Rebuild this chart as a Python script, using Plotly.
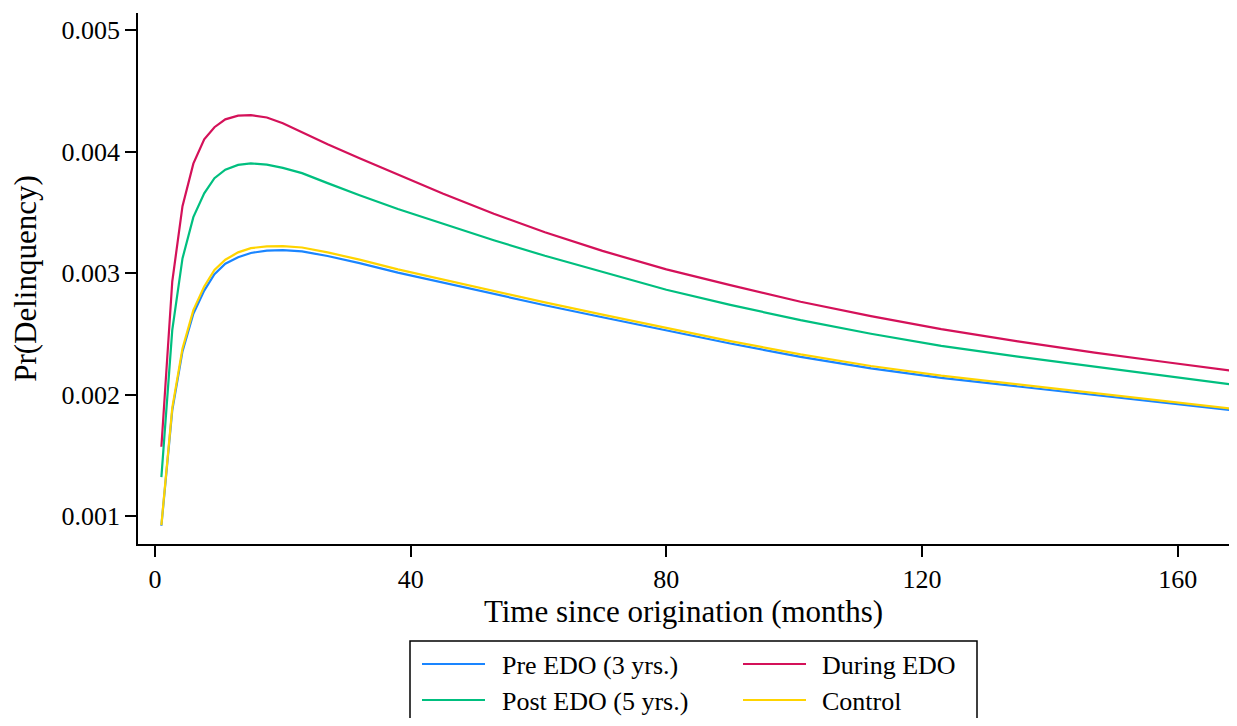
import plotly.graph_objects as go

months = [1, 2.7, 4.3, 6, 7.7, 9.3, 11, 13, 15, 17.5, 20, 23, 27, 32, 38, 45, 53, 61,
          70, 80, 90, 101, 112, 123, 135, 147, 158, 168.7]

pre_edo = [0.00092, 0.00187, 0.002355, 0.002665, 0.002855, 0.00299, 0.003077, 0.00313,
           0.003165, 0.003185, 0.003188, 0.003178, 0.00314, 0.003081, 0.003003, 0.00292,
           0.002826, 0.002735, 0.002636, 0.002528, 0.00242, 0.00231, 0.002216, 0.002137,
           0.002065, 0.001996, 0.001933, 0.001869]

during_edo = [0.00157, 0.00293, 0.00355, 0.0039, 0.0041, 0.0042, 0.004265, 0.004295,
              0.0043, 0.00428, 0.004232, 0.004158, 0.00406, 0.003945, 0.003812, 0.003655,
              0.003488, 0.003335, 0.003182, 0.00303, 0.0029, 0.002764, 0.002645, 0.002538,
              0.002438, 0.002345, 0.002268, 0.002195]

post_edo = [0.00132, 0.00253, 0.00312, 0.00346, 0.003656, 0.00378, 0.00385, 0.00389,
            0.003903, 0.003892, 0.003865, 0.003822, 0.00374, 0.00364, 0.003527, 0.003405,
            0.00327, 0.003142, 0.003008, 0.002862, 0.002738, 0.002612, 0.0025, 0.0024,
            0.002312, 0.002228, 0.002154, 0.002081]

control = [0.000926, 0.00189, 0.00238, 0.002695, 0.00289, 0.003025, 0.00311, 0.00317,
           0.003205, 0.00322, 0.003222, 0.00321, 0.00317, 0.00311, 0.00303, 0.002946,
           0.00285, 0.002758, 0.002658, 0.00255, 0.00244, 0.00233, 0.002235, 0.002155,
           0.002082, 0.002012, 0.001948, 0.001883]

series_names = ["Pre EDO (3 yrs.)", "During EDO", "Post EDO (5 yrs.)", "Control"]
series_colors = ["#1a85ff", "#d41159", "#00bf7f", "#ffd400"]
x_ticks = [0, 40, 80, 120, 160]
y_ticks = [0.001, 0.002, 0.003, 0.004, 0.005]
y_tick_labels = ["0.001", "0.002", "0.003", "0.004", "0.005"]

# page has an 8px body margin; figure sized so the page is exactly 1237x726
BODY = 8
W, H = 1237 - 2 * BODY, 726 - 2 * BODY
PLOT_L, PLOT_R, PLOT_T, PLOT_B = 138, 1229, 13, 544  # page pixels
ML = PLOT_L - BODY
MR = (W + BODY) - PLOT_R
MT = PLOT_T - BODY
MB = (H + BODY) - PLOT_B
PW, PH = PLOT_R - PLOT_L, PLOT_B - PLOT_T

X0 = -2.66
PX_PER_MONTH = 6.392
X1 = X0 + PW / PX_PER_MONTH


def px_x(p):
    return (p - PLOT_L) / PW


def px_y(p):
    return (PLOT_B - p) / PH


FONT = "Liberation Serif, Times New Roman, serif"
FS = 26

fig = go.Figure()
series_vals = [pre_edo, during_edo, post_edo, control]
for name, vals, col in zip(series_names, series_vals, series_colors):
    fig.add_trace(go.Scatter(
        x=months, y=vals, mode="lines", name=name,
        line=dict(color=col, width=2.2), showlegend=False,
    ))

# legend drawn as a boxed 2x2 key (line samples + text labels)
key_pos = {  # name: (line x0, line x1, text x, row y) in page pixels
    "Pre EDO (3 yrs.)": (422, 485, 500, 664),
    "During EDO": (743, 806, 820, 664),
    "Post EDO (5 yrs.)": (422, 485, 500, 700),
    "Control": (743, 806, 820, 700),
}
shapes = [dict(
    type="rect", xref="paper", yref="paper",
    x0=px_x(410), x1=px_x(977), y0=px_y(641), y1=px_y(760),
    line=dict(color="black", width=1.5), fillcolor="rgba(0,0,0,0)",
)]
annotations = []
for name, col in zip(series_names, series_colors):
    lx0, lx1, tx, ry = key_pos[name]
    shapes.append(dict(
        type="line", xref="paper", yref="paper",
        x0=px_x(lx0), x1=px_x(lx1), y0=px_y(ry), y1=px_y(ry),
        line=dict(color=col, width=2.2),
    ))
    annotations.append(dict(
        text=name, xref="paper", yref="paper", x=px_x(tx), y=px_y(ry + 1),
        xanchor="left", yanchor="middle", showarrow=False,
        font=dict(family=FONT, size=FS, color="black"),
    ))

fig.update_layout(
    width=W, height=H,
    margin=dict(l=ML, r=MR, t=MT, b=MB),
    paper_bgcolor="white", plot_bgcolor="white",
    font=dict(family=FONT, size=FS, color="black"),
    showlegend=False,
    xaxis=dict(
        range=[X0, X1], tickvals=x_ticks, ticks="outside", ticklen=11,
        tickwidth=1.5, tickcolor="black", showline=True, linecolor="black",
        linewidth=1.5, showgrid=False, zeroline=False,
        title=dict(text="Time since origination (months)", standoff=1),
        tickfont=dict(size=FS),
    ),
    yaxis=dict(
        range=[0.00077, 0.00514], tickvals=y_ticks, ticktext=y_tick_labels,
        ticks="outside", ticklen=11, tickwidth=1.5, tickcolor="black",
        showline=True, linecolor="black", linewidth=1.5, showgrid=False,
        zeroline=False, title=dict(text="Pr(Delinquency)", standoff=23),
        tickfont=dict(size=FS),
    ),
    shapes=shapes,
    annotations=annotations,
)

fig.write_html("out.html")
